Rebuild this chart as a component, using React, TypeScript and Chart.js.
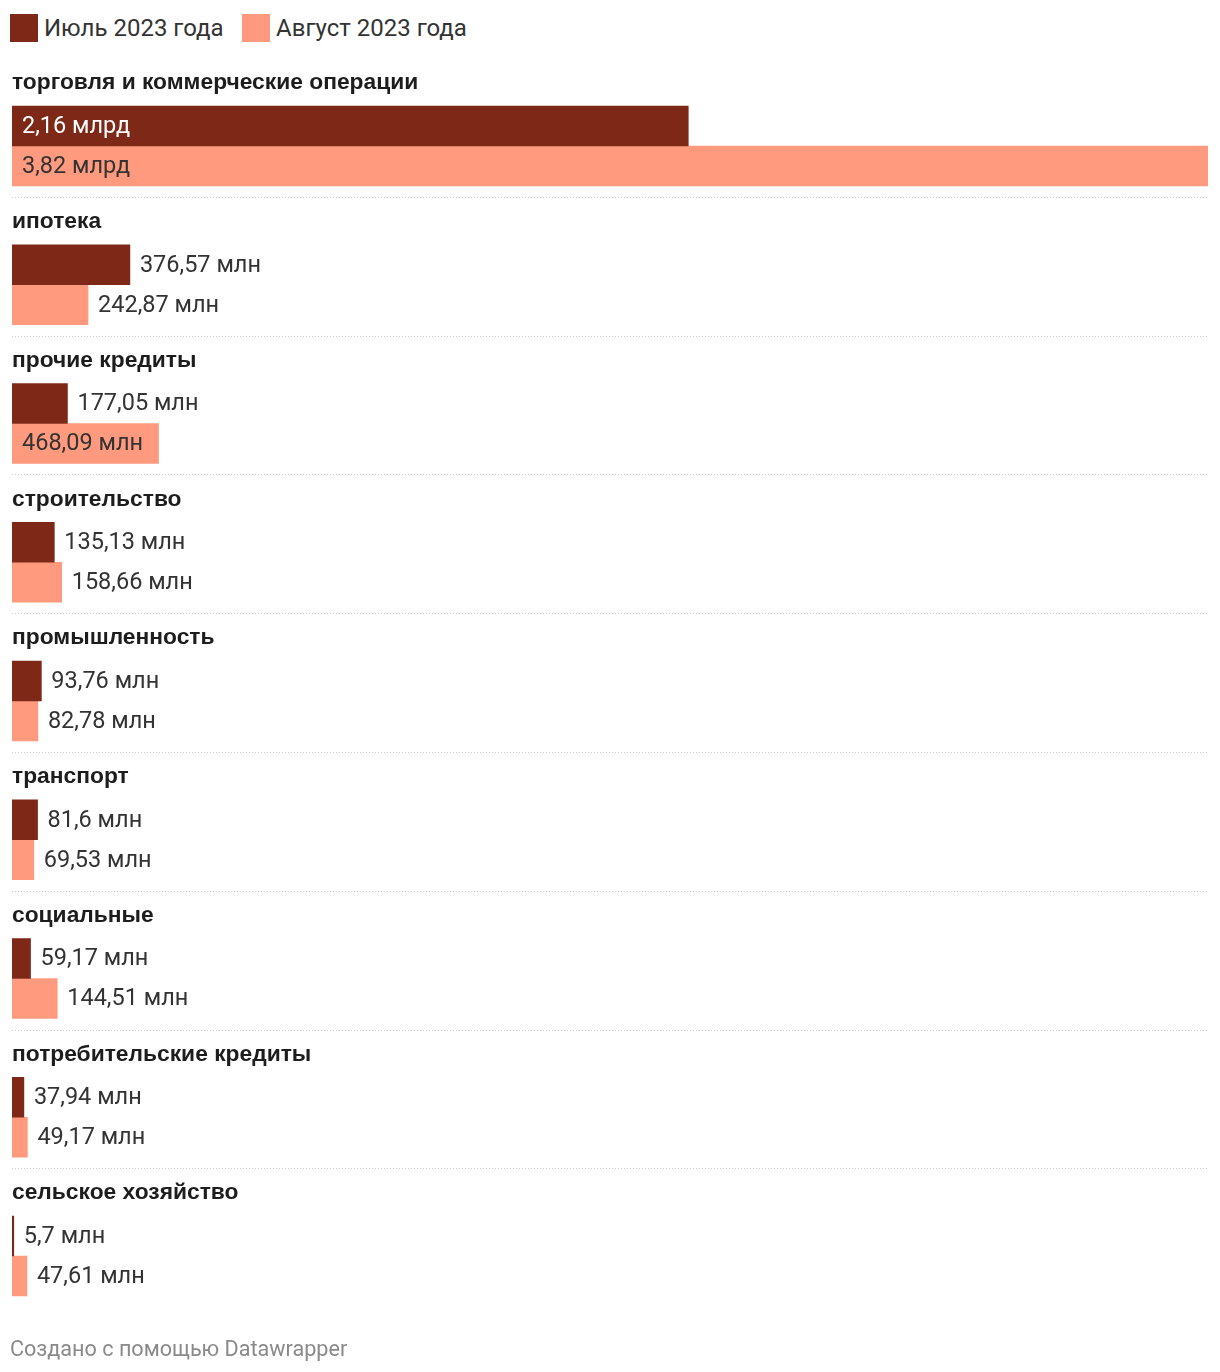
import React, { useEffect, useRef } from "react";
import { Chart, registerables } from "chart.js";

Chart.register(...registerables);

const categories = [
  "торговля и коммерческие операции",
  "ипотека",
  "прочие кредиты",
  "строительство",
  "промышленность",
  "транспорт",
  "социальные",
  "потребительские кредиты",
  "сельское хозяйство",
];

// values in millions
const julyValues = [2160, 376.57, 177.05, 135.13, 93.76, 81.6, 59.17, 37.94, 5.7];
const augustValues = [3820, 242.87, 468.09, 158.66, 82.78, 69.53, 144.51, 49.17, 47.61];

const seriesNames = ["Июль 2023 года", "Август 2023 года"];
const seriesColors = ["#7e2818", "#ff9a7e"];
const insideTextColors = ["#ffffff", "#333333"];
const footerText = "Создано с помощью Datawrapper";

const FONT = "Roboto, 'Helvetica Neue', Arial, sans-serif";
const BOLD_FONT = "'Liberation Sans', Arial, Helvetica, sans-serif";

function formatValue(v: number): string {
  if (v >= 1000) return String(v / 1000).replace(".", ",") + " млрд";
  return String(v).replace(".", ",") + " млн";
}

const overlayPlugin = {
  id: "dwOverlay",
  afterDatasetsDraw(chart: any) {
    const ctx = chart.ctx;
    const area = chart.chartArea;
    const m0 = chart.getDatasetMeta(0);
    const m1 = chart.getDatasetMeta(1);
    ctx.save();
    categories.forEach((cat, i) => {
      const b0 = m0.data[i] as any;
      const b1 = m1.data[i] as any;
      const top = b0.y - b0.height / 2;
      const bottom = b1.y + b1.height / 2;
      // category label
      ctx.font = `bold 22.8px ${BOLD_FONT}`;
      ctx.fillStyle = "#1d1d1d";
      ctx.textBaseline = "middle";
      ctx.textAlign = "left";
      ctx.fillText(cat, area.left, top - 23);
      // separator
      if (i < categories.length - 1) {
        ctx.strokeStyle = "#cccccc";
        ctx.lineWidth = 1;
        ctx.setLineDash([1, 2]);
        ctx.beginPath();
        const sy = Math.round(bottom + 11) + 0.5;
        ctx.moveTo(area.left, sy);
        ctx.lineTo(area.right, sy);
        ctx.stroke();
        ctx.setLineDash([]);
      }
      // value labels
      [b0, b1].forEach((bar: any, d: number) => {
        const v = d === 0 ? julyValues[i] : augustValues[i];
        const text = formatValue(v);
        ctx.font = `23.5px ${FONT}`;
        const tw = ctx.measureText(text).width;
        const w = bar.x - bar.base;
        ctx.textBaseline = "middle";
        if (w > tw + 20) {
          ctx.fillStyle = insideTextColors[d];
          ctx.fillText(text, bar.base + 10, bar.y + 1);
        } else {
          ctx.fillStyle = "#333333";
          ctx.fillText(text, bar.x + 10, bar.y + 1);
        }
      });
    });
    ctx.restore();
  },
};

export default function App() {
  const canvasRef = useRef<HTMLCanvasElement | null>(null);

  useEffect(() => {
    if (!canvasRef.current) return;
    const chart = new Chart(canvasRef.current, {
      type: "bar",
      data: {
        labels: categories,
        datasets: [
          {
            label: seriesNames[0],
            data: julyValues,
            backgroundColor: seriesColors[0],
            borderWidth: 0,
            barThickness: 40,
          },
          {
            label: seriesNames[1],
            data: augustValues,
            backgroundColor: seriesColors[1],
            borderWidth: 0,
            barThickness: 40,
          },
        ],
      },
      options: {
        indexAxis: "y",
        animation: false,
        responsive: false,
        maintainAspectRatio: false,
        devicePixelRatio: 1,
        layout: { padding: { left: 12, right: 12, top: 76.6, bottom: 46.6 } },
        plugins: { legend: { display: false }, tooltip: { enabled: false } },
        scales: {
          x: { type: "linear", min: 0, max: 3820, display: false },
          y: { type: "category", display: false, offset: true },
        },
      },
      plugins: [overlayPlugin],
    });
    return () => chart.destroy();
  }, []);

  const legendItem = (i: number, left: number) => (
    <div
      style={{
        position: "absolute",
        left,
        top: 14,
        height: 28,
        display: "flex",
        alignItems: "center",
      }}
    >
      <span style={{ width: 28, height: 28, background: seriesColors[i], display: "inline-block" }} />
      <span style={{ marginLeft: 6, fontSize: 24, color: "#333", fontFamily: FONT, lineHeight: "28px", whiteSpace: "nowrap" }}>
        {seriesNames[i]}
      </span>
    </div>
  );

  return (
    <div style={{ position: "absolute", left: 0, top: 0, width: 1220, height: 1372, background: "#fff" }}>
      {legendItem(0, 10)}
      {legendItem(1, 242)}
      <canvas ref={canvasRef} width={1220} height={1372} style={{ position: "absolute", left: 0, top: 0, width: 1220, height: 1372 }} />
      <div
        style={{
          position: "absolute",
          left: 10,
          top: 1336,
          fontSize: 21.6,
          lineHeight: "26px",
          color: "#8a8a8a",
          fontFamily: FONT,
          whiteSpace: "nowrap",
        }}
      >
        {footerText}
      </div>
    </div>
  );
}
